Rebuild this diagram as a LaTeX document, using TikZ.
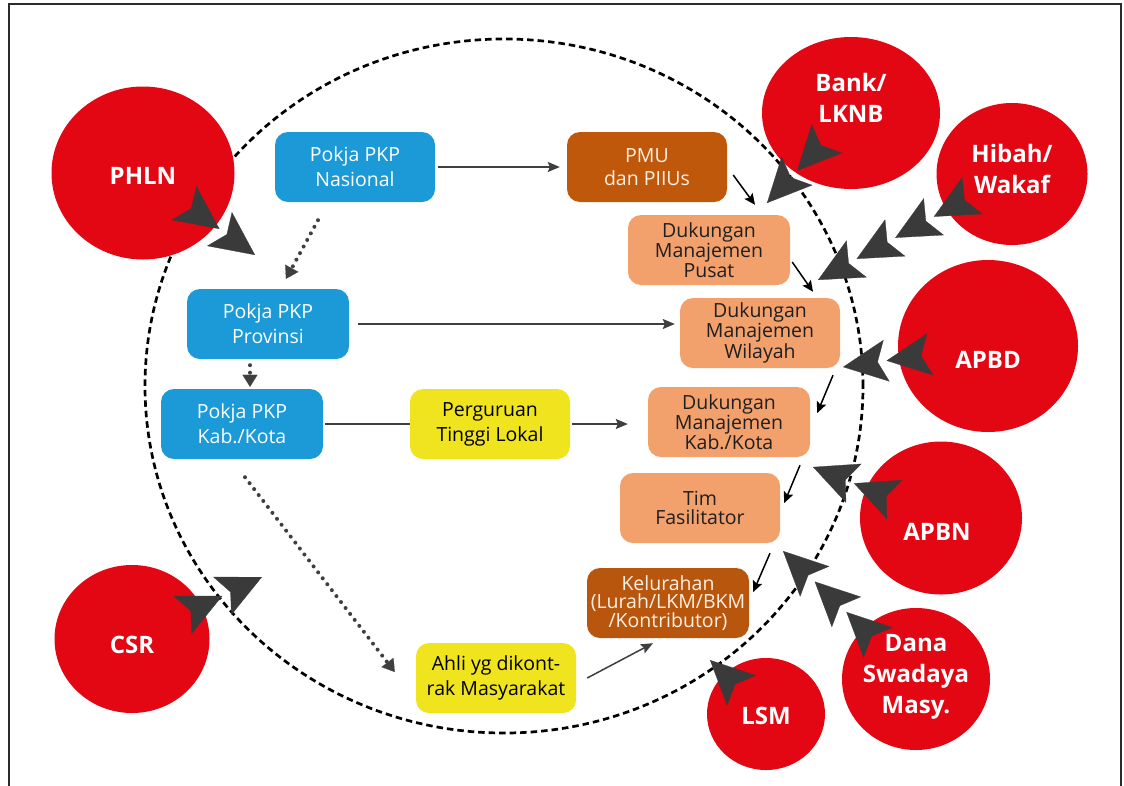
\documentclass[tikz,border=0pt]{standalone}
\usepackage{fontspec}
\setmainfont{Open Sans}
\usetikzlibrary{arrows.meta,shapes.geometric,calc}
\definecolor{pkpblue}{HTML}{1B9AD7}
\definecolor{pmubrown}{HTML}{C0580C}
\definecolor{kelbrown}{HTML}{B9560E}
\definecolor{dmorange}{HTML}{F2A06C}
\definecolor{ptyellow}{HTML}{F0E41E}
\definecolor{fundred}{HTML}{E30613}
\definecolor{headgray}{HTML}{3A3A3A}
\definecolor{linegray}{HTML}{3F3F3F}
\definecolor{framegray}{HTML}{2B2B2B}
\definecolor{lighttext}{HTML}{FFF0E2}
\tikzset{
  bighead/.tip={Stealth[length=44pt,width=42pt,inset=9pt,color=headgray]},
  box/.style={rounded corners=13pt, minimum width=160pt, minimum height=70pt,
    inner sep=0pt, align=center, font=\fontsize{19.5}{25}\selectfont},
  bluebox/.style={box, fill=pkpblue, text=white},
  pmubox/.style={box, fill=pmubrown, text=lighttext, font=\fontsize{19.5}{23}\selectfont},
  dmbox/.style={box, fill=dmorange, text=black!88, font=\fontsize{19.5}{18.5}\selectfont},
  kelbox/.style={box, fill=kelbrown, text=lighttext, font=\fontsize{19.5}{18.5}\selectfont},
  ybox/.style={box, fill=ptyellow, text=black},
  fund/.style={ellipse, fill=fundred, inner sep=0pt},
  fundtext/.style={text=white, font=\fontsize{24}{31}\selectfont\bfseries, align=center},
  funding/.style={draw=white, line width=0.3pt},
  garrow/.style={draw=linegray, line width=1.5pt, -{Stealth[length=12pt,width=10pt,inset=2pt]}},
  gline/.style={draw=linegray, line width=1.5pt},
  karrow/.style={draw=black, line width=1.5pt, -{Stealth[length=11pt,width=10pt,inset=2pt]}},
  dotarrow/.style={draw=linegray, line width=4pt, line cap=round, dash pattern=on 0pt off 7.5pt,
    -{Triangle[length=12pt,width=15pt,line width=0.1pt]}},
}
\begin{document}
\begin{tikzpicture}[x=1pt,y=-1pt]
\useasboundingbox (0,0) rectangle (1124,785);
\fill[white] (0,0) rectangle (1124,785);
% frame
\draw[framegray, line width=1.8pt] (9,790) -- (9,4) -- (1121,4) -- (1121,790);
% dashed circle
\draw[black, line width=2.7pt, dash pattern=on 6.5pt off 4pt] (504,386) ellipse [x radius=359pt, y radius=347pt];

% boxes
\node[bluebox] (nas) at (355,167) {Pokja PKP\\Nasional};
\node[pmubox] (pmu) at (647,167) {PMU\\dan PIIUs};
\node[dmbox, minimum width=162pt] (dmp) at (709,250) {Dukungan\\Manajemen\\Pusat};
\node[dmbox] (dmw) at (760,333) {Dukungan\\Manajemen\\Wilayah};
\node[dmbox, minimum width=162pt] (dmk) at (729,422) {Dukungan\\Manajemen\\Kab./Kota};
\node[dmbox] (tim) at (700,508) {Tim\\Fasilitator};
\node[kelbox, minimum width=162pt] (kel) at (668,603) {Kelurahan\\(Lurah/LKM/BKM\\/Kontributor)};
\node[ybox] (ahli) at (496,678) {Ahli yg dikont-\\rak Masyarakat};
\node[ybox] (ptl) at (490,424) {Perguruan\\Tinggi Lokal};
\node[bluebox, minimum width=162pt] (prov) at (268,324) {Pokja PKP\\Provinsi};
\node[bluebox, minimum width=162pt] (kab) at (242,424) {Pokja PKP\\Kab./Kota};

% connectors between boxes
\draw[garrow] ([xshift=3pt]nas.east) -- ([xshift=-7pt]pmu.west);
\draw[garrow] ([xshift=9pt]prov.east) -- ($(prov.east -| dmw.west)+(-5,0)$);
\draw[gline] ([xshift=2pt]kab.east) -- (kab.east -| ptl.west);
\draw[garrow] ([xshift=2pt]ptl.east) -- ($(ptl.east -| dmk.west)+(-20,0)$);
\draw[garrow] ([shift={(11,0)}]ahli.east) -- ([shift={(-15,5)}]kel.south);
\draw[dotarrow] ([shift={(-37,18)}]nas.south) -- ([shift={(18,-10)}]prov.north);
\draw[dotarrow] ([shift={(-18,6)}]prov.south) -- ([shift={(8,-2)}]kab.north);
\draw[dotarrow] ([shift={(3,18)}]kab.south) -- ([shift={(-21,-6)}]ahli.west);
\draw[karrow] ([shift={(6,8)}]pmu.east) -- ([shift={(46,-10)}]dmp.north);
\draw[karrow] ([shift={(2,12)}]dmp.east) -- ([shift={(53,-6)}]dmw.north);
\draw[karrow] ([shift={(73,7)}]dmw.south) -- ([shift={(7,-9)}]dmk.east);
\draw[karrow] ([shift={(71,8)}]dmk.south) -- ([shift={(4,-5)}]tim.east);
\draw[karrow] ([shift={(70,10)}]tim.south) -- ([shift={(4,-11)}]kel.east);

% funding sources
\node[fund, minimum width=183pt, minimum height=173pt, label={[fundtext, yshift=-3pt]center:PHLN}] (phln) at (143,173) {};
\node[fund, minimum width=178pt, minimum height=152pt, label={[fundtext, yshift=15pt]center:{Bank/\\LKNB}}] (bank) at (851,113) {};
\node[fund, minimum width=151pt, minimum height=142pt, label={[fundtext, yshift=5pt]center:{Hibah/\\Wakaf}}] (hibah) at (1012,174) {};
\node[fund, minimum width=180pt, minimum height=172pt, label={[fundtext, yshift=-14pt]center:APBD}] (apbd) at (988,346) {};
\node[fund, minimum width=162pt, minimum height=153pt, label={[fundtext, yshift=-14pt, xshift=-4pt]center:APBN}] (apbn) at (941,518) {};
\node[fund, minimum width=148pt, minimum height=142pt, label={[fundtext, yshift=2pt]center:{Dana\\Swadaya\\Masy.}}] (dana) at (916,679) {};
\node[fund, minimum width=118pt, minimum height=112pt, label={[fundtext, yshift=-2pt]center:LSM}] (lsm) at (766,714) {};
\node[fund, minimum width=155pt, minimum height=148pt, label={[fundtext, yshift=-6pt]center:CSR}] (csr) at (132,639) {};

% funding arrows
\coordinate (phlnT) at (255,255);
\coordinate (bankT) at (767,203);
\coordinate (hibahT) at (818,280);
\coordinate (apbdT) at (843,367);
\coordinate (apbnT) at (813,467);
\coordinate (danaT) at (783,551);
\coordinate (lsmT) at (710,660);
\coordinate (csrT) at (262,577);
\draw[funding, -{bighead[]bighead[]}] (phln) -- (phlnT);
\draw[funding, -{bighead[]bighead[]}] (bank) -- (bankT);
\draw[funding, -{bighead[]bighead[]bighead[]bighead[]}] (hibah) -- (hibahT);
\draw[funding, -{bighead[]bighead[]}] (apbd) -- (apbdT);
\draw[funding, -{bighead[]bighead[]}] (apbn) -- (apbnT);
\draw[funding, -{bighead[]bighead[]bighead[]}] (dana) -- (danaT);
\draw[funding, -{bighead[]}] (lsm) -- (lsmT);
\draw[funding, -{bighead[]bighead[]}] (csr) -- (csrT);
\end{tikzpicture}
\end{document}
